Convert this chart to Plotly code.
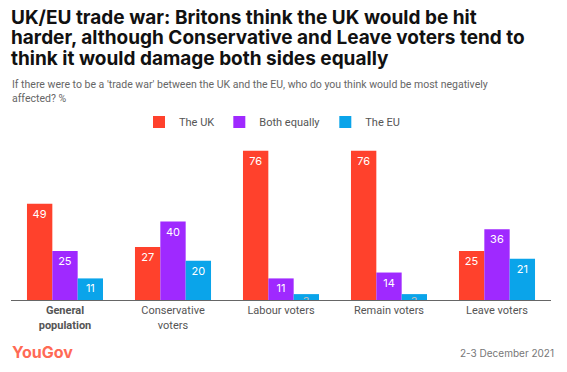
import plotly.graph_objects as go

categories = ["General population", "Conservative voters", "Labour voters", "Remain voters", "Leave voters"]
tick_labels = ["<b>General</b><br><b>population</b>", "Conservative<br>voters", "Labour voters", "Remain voters", "Leave voters"]
series_names = ["The UK", "Both equally", "The EU"]
the_uk = [49, 27, 76, 76, 25]
both_equally = [25, 40, 11, 14, 36]
the_eu = [11, 20, 3, 3, 21]
colors = ["#FF412C", "#9F29FF", "#0AA4EA"]

title_lines = [
    "UK/EU trade war: Britons think the UK would be hit",
    "harder, although Conservative and Leave voters tend to",
    "think it would damage both sides equally",
]
subtitle_lines = [
    "If there were to be a 'trade war' between the UK and the EU, who do you think would be most negatively",
    "affected? %",
]

W, H = 567, 372
L, R, T, B = 11, 16, 143, 72
plot_h = H - T - B
plot_w = W - L - R
FONT = "Inter, Roboto, sans-serif"
FONT2 = "Roboto, Inter, sans-serif"

fig = go.Figure()
for name, vals, col in zip(series_names, [the_uk, both_equally, the_eu], colors):
    fig.add_trace(go.Bar(
        x=categories, y=vals, name=name, marker=dict(color=col, line=dict(width=0)),
        text=[str(v) for v in vals], textposition="inside", insidetextanchor="end",
        constraintext="none", textangle=0,
        textfont=dict(family=FONT, size=11,
                      color=["white" if v >= 6 else "#BBBBBB" for v in vals]),
        hoverinfo="skip",
    ))

def py(y):
    return (H - B - y) / plot_h

def px(x):
    return (x - L) / plot_w

fig.update_layout(
    width=W, height=H,
    margin=dict(l=L, r=R, t=T, b=B),
    paper_bgcolor="white", plot_bgcolor="white",
    barmode="group", bargap=0.296, bargroupgap=0,
    font=dict(family=FONT2, color="#555555"),
    legend=dict(
        orientation="h", x=px(272), xanchor="center",
        y=py(122), yanchor="middle",
        font=dict(family=FONT2, size=11, color="#555555"),
        itemwidth=30, traceorder="normal",
    ),
    xaxis=dict(
        showline=True, linecolor="#666666", linewidth=1,
        tickmode="array", tickvals=categories, ticktext=tick_labels,
        tickfont=dict(family=FONT2, size=11, color="#555555"), ticks="", showgrid=False,
        fixedrange=True,
    ),
    yaxis=dict(visible=False, range=[0, 80], showgrid=False, fixedrange=True),
    showlegend=True,
)

for i, line in enumerate(title_lines):
    fig.add_annotation(
        text="<b>" + line + "</b>", xref="paper", yref="paper",
        x=px(9), y=py(17 + 21 * i), xanchor="left", yanchor="middle",
        showarrow=False, align="left",
        font=dict(family=FONT, size=19, color="#111111"),
    )
for i, line in enumerate(subtitle_lines):
    fig.add_annotation(
        text=line, xref="paper", yref="paper",
        x=px(10), y=py(84 + 14 * i), xanchor="left", yanchor="middle",
        showarrow=False, align="left", font=dict(family=FONT2, size=10.5, color="#666666"),
    )
fig.add_annotation(
    text="<b>YouGov</b>", xref="paper", yref="paper", x=px(10), y=py(352),
    xanchor="left", yanchor="middle", showarrow=False,
    font=dict(family=FONT, size=16, color="#FF6A55"),
)
fig.add_annotation(
    text="2-3 December 2021", xref="paper", yref="paper", x=px(556), y=py(353),
    xanchor="right", yanchor="middle", showarrow=False,
    font=dict(family=FONT, size=10, color="#777777"),
)

fig.write_html("out.html", config={"displayModeBar": False, "staticPlot": True})
with open("out.html", "r", encoding="utf-8") as f:
    html = f.read()
html = html.replace("<head>", "<head><style>html,body{margin:0;padding:0;overflow:hidden;}</style>", 1)
with open("out.html", "w", encoding="utf-8") as f:
    f.write(html)
